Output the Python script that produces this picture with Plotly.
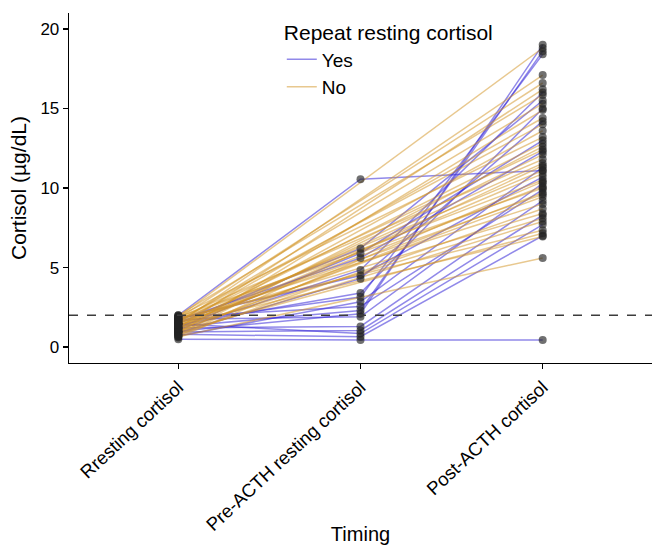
import plotly.graph_objects as go

# ---------------- data ----------------
categories = ["Rresting cortisol", "Pre-ACTH resting cortisol", "Post-ACTH cortisol"]
group_names = ["Yes", "No"]
legend_title = "Repeat resting cortisol"

# Repeat resting cortisol = Yes (three timepoints)
yes_resting = [2.0, 1.5, 1.2, 1.7, 1.1, 1.8, 0.9, 1.4, 1.6, 0.7, 1.9, 1.3, 1.0, 1.75, 1.2, 0.95, 1.45, 0.8, 0.5]
yes_pre     = [10.55, 6.2, 5.9, 5.6, 4.85, 4.5, 4.3, 3.4, 3.15, 2.85, 2.55, 2.3, 2.1, 1.9, 1.3, 1.05, 0.85, 0.65, 0.45]
yes_post    = [11.1, 15.5, 13.0, 12.3, 16.0, 10.7, 14.2, 15.0, 18.4, 11.3, 9.9, 18.6, 19.0, 10.3, 9.2, 8.3, 7.7, 7.0, 0.45]

# Repeat resting cortisol = No (no pre-ACTH repeat)
no_resting = [1.9, 1.5, 1.8, 1.2, 2.0, 1.6, 0.9, 1.4, 1.7, 1.1, 1.95, 1.3, 0.8, 1.6, 1.0, 1.85, 1.25, 0.7,
              1.5, 1.15, 1.75, 0.6, 1.35, 1.9, 0.95, 1.45, 1.05, 1.65, 0.75, 1.55, 1.2, 0.85, 1.8, 1.0, 1.4, 0.65]
no_post = [18.8, 17.1, 16.6, 16.2, 15.85, 15.3, 14.9, 14.4, 14.0, 13.6, 13.2, 12.8, 12.6, 12.4, 12.1, 11.8, 11.55, 11.4,
           11.1, 10.9, 10.5, 10.4, 10.1, 10.0, 9.7, 9.6, 9.45, 9.0, 8.7, 8.4, 8.1, 7.9, 7.35, 7.15, 6.95, 5.6]

threshold = 2.0
y_ticks = [0, 5, 10, 15, 20]

# ---------------- styles ----------------
FONT = "Liberation Sans, Arial, sans-serif"
COL_YES = "rgba(55,40,215,0.55)"
COL_NO = "rgba(210,150,40,0.52)"
COL_PT = "rgba(35,35,35,0.65)"


def build_lines(cats, cols):
    xs, ys = [], []
    for vals in zip(*cols):
        for c, v in zip(cats, vals):
            xs.append(c)
            ys.append(v)
        xs.append(None)
        ys.append(None)
    return xs, ys


fig = go.Figure()

yx, yy = build_lines(categories, [yes_resting, yes_pre, yes_post])
nx, ny = build_lines([categories[0], categories[2]], [no_resting, no_post])

fig.add_trace(go.Scatter(x=yx, y=yy, mode="lines", name=group_names[0],
                         line=dict(color=COL_YES, width=1.5), connectgaps=False,
                         hoverinfo="skip"))
fig.add_trace(go.Scatter(x=nx, y=ny, mode="lines", name=group_names[1],
                         line=dict(color=COL_NO, width=1.5), connectgaps=False,
                         hoverinfo="skip"))

px_, py_ = [], []
for c, vals in [(categories[0], yes_resting), (categories[1], yes_pre), (categories[2], yes_post),
                (categories[0], no_resting), (categories[2], no_post)]:
    px_ += [c] * len(vals)
    py_ += list(vals)
fig.add_trace(go.Scatter(x=px_, y=py_, mode="markers", showlegend=False,
                         marker=dict(color=COL_PT, size=8, line=dict(width=0))))

fig.add_shape(type="line", xref="paper", x0=0, x1=1, yref="y", y0=threshold, y1=threshold,
              line=dict(color="rgb(60,60,60)", width=1.3, dash="dash"), layer="above")

fig.update_layout(
    template="none",
    width=652, height=545,
    margin=dict(l=69, r=0, t=13, b=182, autoexpand=False),
    paper_bgcolor="white", plot_bgcolor="white",
    font=dict(family=FONT, color="black", size=17),
    legend=dict(
        title=dict(text=legend_title, font=dict(size=21, family=FONT), side="top"),
        font=dict(size=19, family=FONT),
        x=0.365, xanchor="left", y=1.0, yanchor="top",
        bgcolor="rgba(0,0,0,0)", tracegroupgap=0, borderwidth=0,
    ),
    xaxis=dict(
        type="category", categoryorder="array", categoryarray=categories,
        range=[-0.6, 2.6], showgrid=False, zeroline=False, automargin=False,
        showline=True, linecolor="black", linewidth=1.3,
        ticks="outside", ticklen=5, tickwidth=1.2, tickcolor="black",
        tickangle=-43, tickfont=dict(size=18.5, family=FONT),
        title=dict(text="Timing", font=dict(size=20, family=FONT), standoff=16),
    ),
    yaxis=dict(
        range=[-1, 21], tickvals=y_ticks, showgrid=False, zeroline=False, automargin=False,
        showline=True, linecolor="black", linewidth=1.3,
        ticks="outside", ticklen=5, tickwidth=1.2, tickcolor="black",
        tickfont=dict(size=17, family=FONT),
        title=dict(text="Cortisol (µg/dL)", font=dict(size=21, family=FONT), standoff=8),
    ),
)

fig.write_html(
    "out.html",
    config={"displayModeBar": False, "staticPlot": True},
    post_script="document.body.style.margin='0';document.body.style.overflow='hidden';",
)
